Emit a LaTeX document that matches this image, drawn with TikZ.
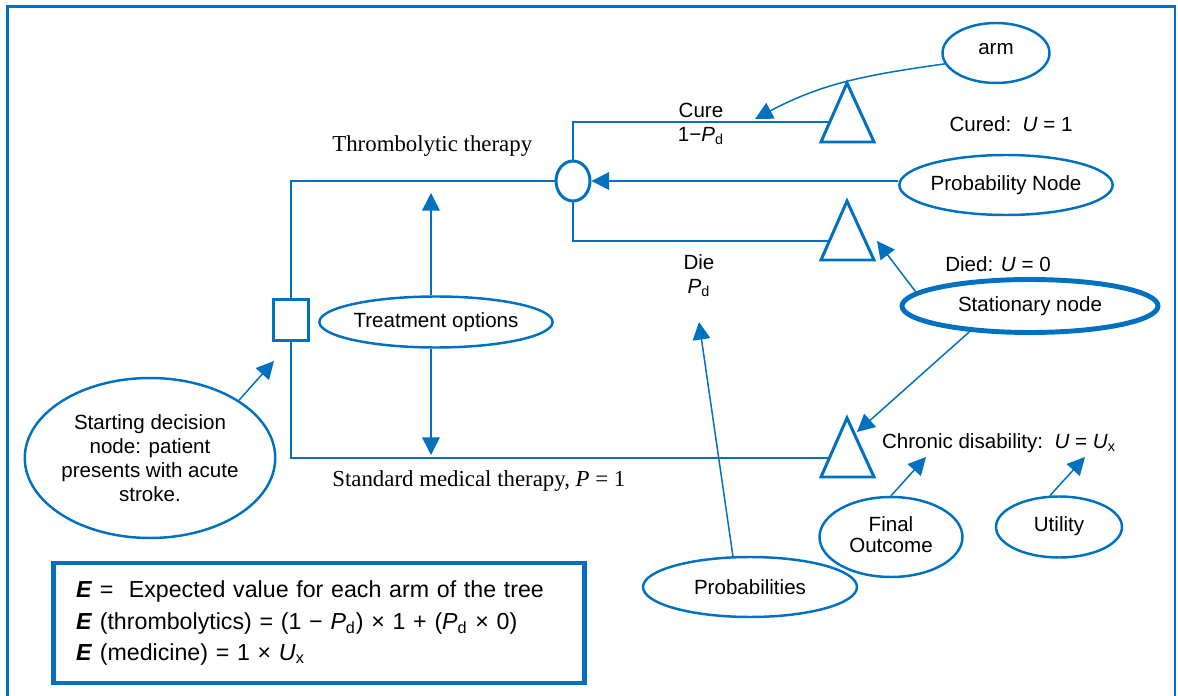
\documentclass[tikz,border=0pt]{standalone}
\usepackage{fontspec}
\setmainfont{Liberation Sans}
\newfontfamily\labelserif{Liberation Serif}
\usetikzlibrary{arrows.meta, positioning, calc, shapes.geometric}
\definecolor{treeblue}{RGB}{0,112,192}
\newcommand\lblsize{\fontsize{11.7}{13.6}\selectfont}
\newcommand\serifsize{\fontsize{13}{15}\selectfont}
\newcommand\boxsize{\fontsize{13.2}{18}\selectfont}

\begin{document}
\begin{tikzpicture}[x=0.02cm, y=-0.02cm, font=\lblsize,
  branch/.style={treeblue, line width=1.7pt},
  leaf/.style={draw=treeblue, fill=white, line width=1.7pt, line join=miter},
  callout/.style={ellipse, draw=treeblue, line width=1.4pt, inner sep=0pt, align=center},
  pointer/.style={treeblue, line width=0.85pt, -{Triangle[length=10pt, width=10pt]}},
  treelabel/.style={font=\labelserif\serifsize, anchor=west, inner sep=0pt}]
  \clip (0,0) rectangle (1178,696);
  % outer frame
  \draw[treeblue, line width=1.6pt] (7.5,6.5) rectangle (1175,720);

  % decision and chance nodes
  \node[draw=treeblue, line width=1.7pt, minimum width=0.7cm, minimum height=0.82cm,
        inner sep=0pt] (dec) at (291,320) {};
  \node[ellipse, draw=treeblue, line width=1.7pt, minimum width=0.68cm,
        minimum height=0.8cm, inner sep=0pt] (chance) at (573,181) {};
  % terminal triangles (base left corner)
  \coordinate (tcure) at (821,142);
  \coordinate (tdie) at (821,260);
  \coordinate (tchron) at (821,477);

  % branches
  \draw[branch] (dec.north) |- (chance.west);
  \draw[branch] (dec.south) |- ($(tchron)+(9,-19)$);
  \draw[branch] (chance.north) |- ($(tcure)+(9,-20)$);
  \draw[branch] (chance.south) |- ($(tdie)+(9,-19)$);
  \foreach \t in {tcure, tdie, tchron}
    \draw[leaf] (\t) -- ++(26,-59) -- ++(27,59) -- cycle;

  % branch labels
  \node[treelabel] (thrombo) at (332,146) {Thrombolytic therapy};
  \node[treelabel] (standard) at (332,481) {Standard medical therapy, \textit{P} = 1};
  \node[align=center] (curelbl) at (701,124) {Cure\\1−\textit{P}\textsubscript{d}};
  \node[align=center] (dielbl) at (699,276) {Die\\\textit{P}\textsubscript{d}};
  \node (curedlbl) at (1011,124) {Cured:\ \ \textit{U} = 1};
  \node (diedlbl) at (998,264) {Died: \textit{U} = 0};
  \node (chronlbl) at (999,443) {Chronic disability:\ \ \textit{U} = \textit{U}\textsubscript{x}};

  % callouts
  \node[callout, minimum width=2.14cm, minimum height=1.2cm] (arm) at (996,53) {\raisebox{5pt}{arm}};
  \node[callout, minimum width=3.88cm, minimum height=1.2cm] (pnode) at (1006,185) {Probability Node};
  \node[callout, line width=2.8pt, minimum width=5.12cm, minimum height=1.06cm]
    (stat) at (1030,306) {Stationary node};
  \node[callout, minimum width=4.26cm, minimum height=1.02cm] (treat) at (436,322) {Treatment options};
  \node[callout, minimum width=4.98cm, minimum height=3.2cm] (patient) at (150,458)
    {Starting decision\\node: patient\\presents with acute\\stroke.};
  \node[callout, minimum width=4.28cm, minimum height=1.2cm] (probs) at (750,587) {Probabilities};
  \node[callout, minimum width=2.86cm, minimum height=1.6cm] (final) at (891,537)
    {\raisebox{3pt}{\shortstack{Final\\[1pt]Outcome}}};
  \node[callout, minimum width=2.52cm, minimum height=1.22cm] (util) at (1059,527) {\raisebox{3pt}{Utility}};

  % pointer tips
  \coordinate (armtip) at (755,119);
  \coordinate (dietip) at (877,241);
  \coordinate (chrontip) at (857,432);
  \coordinate (optup) at (431,193);
  \coordinate (optdown) at (431,455);
  \coordinate (dectip) at (274,361);
  \coordinate (probtip) at (699,322);
  \coordinate (finaltip) at (926,457);
  \coordinate (utiltip) at (1085,457);

  % pointers
  \draw[pointer] (arm.192) to[out=188, in=28] (armtip);
  \draw[pointer] (pnode.west |- chance) -- (chance.east);
  \draw[pointer] (stat.173) -- (dietip);
  \draw[pointer] (stat.203) -- (chrontip);
  \draw[pointer] (treat.north -| optup) -- (optup);
  \draw[pointer] (treat.south -| optdown) -- (optdown);
  \draw[pointer] (patient.33) -- (dectip);
  \draw[pointer] (probs.119) -- (probtip);
  \draw[pointer] (final.north) -- (finaltip);
  \draw[pointer] (util.106) -- (utiltip);

  % expected value box
  \node[draw=treeblue, line width=2.8pt, minimum width=10.64cm, minimum height=2.4cm,
        text width=9.72cm, inner sep=0pt, align=left, font=\boxsize] (evbox) at (319,623)
    {\textbf{\textit{E}} =\ \ Expected value for each arm of the tree\\
     \textbf{\textit{E}} (thrombolytics) = (1 − \textit{P}\textsubscript{d}) × 1 + (\textit{P}\textsubscript{d} × 0)\\
     \textbf{\textit{E}} (medicine) = 1 × \textit{U}\textsubscript{x}};
\end{tikzpicture}
\end{document}
